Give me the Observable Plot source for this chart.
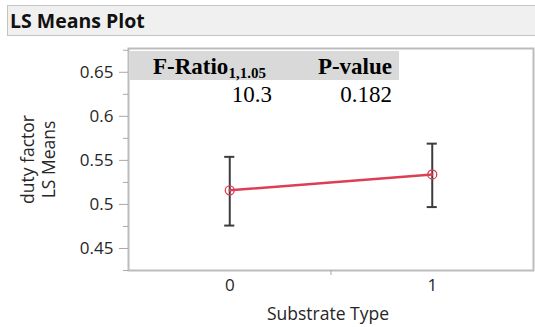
<!DOCTYPE html>
<html>
<head>
<meta charset="utf-8">
<script src="https://cdn.jsdelivr.net/npm/d3@7"></script>
<script src="https://cdn.jsdelivr.net/npm/@observablehq/plot@0.6"></script>
<style>
  html, body { margin: 0; padding: 0; background: #fff; }
  #wrap { position: relative; width: 535px; height: 327px; overflow: hidden; font-family: "Open Sans", "Noto Sans", sans-serif; }
  #titlebar { position: absolute; left: 7px; top: 5px; width: 540px; height: 31px; box-sizing: border-box;
    background: #f0f0f0; border: 1px solid #c4c4c4; font-weight: bold; font-size: 19.5px; color: #111;
    line-height: 29px; padding-left: 2px; }
  #chart { position: absolute; left: 0; top: 40px; }
  #stats { position: absolute; left: 130px; top: 51px; width: 269px; font-family: "Liberation Serif", "Times New Roman", serif; color: #000; }
  #stats .hdr { background: #d9d9d9; height: 29px; position: relative; }
  #stats .row { height: 29px; position: relative; }
  #stats span { position: absolute; white-space: nowrap; font-size: 23px; line-height: 26px; }
  #stats .hdr span { font-weight: bold; top: 3px; }
  #stats .row span { top: 2px; }
  #stats sub { font-size: 15px; vertical-align: -4px; line-height: 0; }
</style>
</head>
<body>
<div id="wrap">
  <div id="titlebar">LS Means Plot</div>
  <div id="chart"></div>
  <div id="stats"></div>
</div>
<script>
// ---- data ----
const categories = ["0", "1"];
const lsMeans = [0.516, 0.534];
const lowerCI = [0.476, 0.497];
const upperCI = [0.554, 0.569];
const yTicks = [0.45, 0.5, 0.55, 0.6, 0.65];
const yMinorTicks = [0.425, 0.475, 0.525, 0.575, 0.625, 0.675];
const yLabelLines = ["duty factor", "LS Means"];
const xLabel = "Substrate Type";
const statHeaders = ["F-Ratio", "P-value"];
const fRatioDF = "1,1.05";
const statValues = ["10.3", "0.182"];

const data = categories.map((c, i) => ({
  x: i, cat: c, mean: lsMeans[i], lo: lowerCI[i], hi: upperCI[i]
}));

const axisColor = "#a8a8a8";
const textColor = "#262626";
const lineColor = "#dc3f55";

const plot = Plot.plot({
  width: 535,
  height: 287,
  marginLeft: 128,
  marginRight: 2,
  marginTop: 8,
  marginBottom: 57,
  style: { fontFamily: "'Open Sans', 'Noto Sans', sans-serif", fontSize: "17px", color: textColor, background: "transparent" },
  x: { domain: [-0.5, 1.5] },
  y: { domain: [0.425, 0.677] },
  marks: [
    Plot.frame({ stroke: "#bcbcbc", strokeWidth: 2 }),
    Plot.axisY({ ticks: yTicks, tickSize: 9, tickPadding: 6, stroke: axisColor, tickFormat: d => String(+d.toFixed(3)), label: null, fontSize: 17, fill: textColor }),
    Plot.axisY({ ticks: yMinorTicks, tickSize: 5, tickFormat: () => "", stroke: axisColor, label: null }),
    Plot.axisX({ ticks: [0, 1], tickSize: 0, tickPadding: 8, tickFormat: d => categories[d], label: null, fontSize: 17, fill: textColor }),
    Plot.axisX({ ticks: [0.5], tickSize: 5, tickFormat: () => "", stroke: axisColor, label: null }),
    Plot.text([xLabel], { frameAnchor: "bottom", dy: 49, dx: -3, text: d => d, fontSize: 17.5, fill: textColor }),
    Plot.text(yLabelLines, { frameAnchor: "left", rotate: -90, textAnchor: "middle", text: d => d, fontSize: 17.5, fill: textColor }),
    Plot.ruleX(data, { x: "x", y1: "lo", y2: "hi", stroke: "#3c3c3c", strokeWidth: 2 }),
    Plot.ruleY(data, { y: "hi", x1: d => d.x - 0.025, x2: d => d.x + 0.025, stroke: "#3c3c3c", strokeWidth: 2 }),
    Plot.ruleY(data, { y: "lo", x1: d => d.x - 0.025, x2: d => d.x + 0.025, stroke: "#3c3c3c", strokeWidth: 2 }),
    Plot.line(data, { x: "x", y: "mean", stroke: lineColor, strokeWidth: 2.5 }),
    Plot.dot(data, { x: "x", y: "mean", r: 4.5, stroke: lineColor, strokeWidth: 1.3, fill: "none" })
  ]
});

// position the two y-label lines side by side
const texts = plot.querySelectorAll("g[aria-label='text']");
const ylab = texts[texts.length - 1];
if (ylab) {
  const ts = ylab.querySelectorAll("text");
  const xs = [-100, -79];
  ts.forEach((t, i) => {
    const tr = t.getAttribute("transform") || "";
    t.setAttribute("transform", tr.replace(/translate\(([^,]+),([^)]+)\)/, (m, a, b) => `translate(${+a + xs[i]},${b})`));
  });
}
document.getElementById("chart").appendChild(plot);

// statistics table
const stats = document.getElementById("stats");
stats.innerHTML = `
  <div class="hdr">
    <span style="left:23px">${statHeaders[0]}<sub>${fRatioDF}</sub></span>
    <span style="right:7px">${statHeaders[1]}</span>
  </div>
  <div class="row">
    <span style="right:127px">${statValues[0]}</span>
    <span style="right:7px">${statValues[1]}</span>
  </div>`;
</script>
</body>
</html>
